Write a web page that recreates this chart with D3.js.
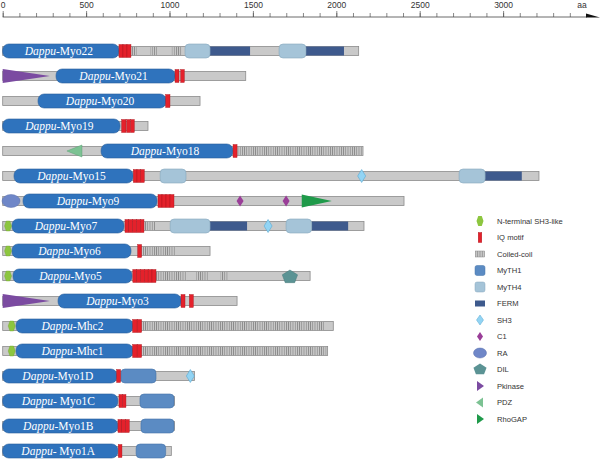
<!DOCTYPE html>
<html><head><meta charset="utf-8">
<script src="https://cdn.jsdelivr.net/npm/d3@7"></script>
<style>body{margin:0;background:#fff}svg{display:block}
.mlab{font-family:"Liberation Serif","Times New Roman",serif;font-weight:normal}
.sans{font-family:"Liberation Sans",Arial,sans-serif}</style>
</head><body>
<script>
// ---- data (aa units) ----
const names = ["Myo22","Myo21","Myo20","Myo19","Myo18","Myo15","Myo9","Myo7","Myo6","Myo5","Myo3","Mhc2","Mhc1","Myo1D","Myo1C","Myo1B","Myo1A"];
const labelSep = ["-","-","-","-","-","-","-","-","-","-","-","-","-","-","- ","-","- "];
const lengths = [2134,1457,1183,871,2160,3215,2406,2166,1243,1843,1405,1982,1948,1150,1030,1030,1011];
const motorDomains = [[0,0,697],[1,320,1033],[2,212,979],[3,0,703],[4,590,1380],[5,68,781],[6,122,925],[7,56,727],[8,56,769],[9,62,775],[10,332,1069],[11,80,781],[12,80,781],[13,0,685],[14,0,690],[15,0,690],[16,0,690]];
const iqMotifs = [[0,697,721],[0,721,745],[0,745,769],[1,1033,1057],[1,1067,1089],[2,977,1003],[3,713,739],[3,743,765],[3,767,789],[4,1381,1405],[5,783,805],[5,805,827],[5,827,849],[6,931,955],[6,955,979],[6,979,1003],[6,1003,1027],[7,733,756],[7,756,779],[7,779,802],[7,802,825],[7,825,847],[8,809,833],[9,780,803],[9,803,826],[9,826,849],[9,849,872],[9,872,895],[9,895,919],[10,1069,1093],[10,1119,1143],[11,779,806],[11,806,833],[12,779,806],[12,806,833],[13,683,707],[14,697,718],[14,718,739],[15,691,714],[15,714,737],[15,737,759],[16,693,715]];
const coiledCoils = [[0,769,803],[0,883,923],[0,1013,1073],[4,1405,2155],[7,847,913],[8,833,1039],[9,919,1105],[9,1160,1230],[9,1307,1349],[11,833,1926],[12,833,1942]];
const myth4 = [[0,1093,1243],[0,1657,1818],[5,944,1099],[5,2736,2892],[7,1004,1243],[7,1699,1852]];
const ferm = [[0,1243,1483],[0,1818,2046],[5,2892,3112],[7,1243,1465],[7,1852,2071]];
const myth1 = [[13,709,919],[14,823,1027],[15,829,1027],[16,800,977]];
const sh3 = [[5,2152],[7,1591],[13,1125]];
const c1 = [[6,1423],[6,1699]];
const ra = [[6,50]];
const dil = [[9,1722]];
const pkinase = [[1,0,283],[10,0,283]];
const pdz = [[4,385,475]];
const rhogap = [[6,1793,1973]];
const sh3like = [[7,32],[8,32],[9,32],[11,54],[12,54]];
const majorTicks = [0,500,1000,1500,2000,2500,3000];
const minorTicks = d3.range(0,3500,100);
const legendItems = ["N-terminal SH3-like","IQ motif","Coiled-coil","MyTH1","MyTH4","FERM","SH3","C1","RA","DIL","Pkinase","PDZ","RhoGAP"];

// ---- drawing ----
const W=600,H=459;
const svg=d3.select("body").append("svg").attr("width",W).attr("height",H);
const x=d3.scaleLinear().domain([0,3500]).range([2.7,2.7+3500*0.1668]);
const y=d3.scaleLinear().domain([0,16]).range([51,451]);

const C={motor:"#2f73bd",motorS:"#2a5f9c",bb:"#c9c9c9",bbS:"#8c8c8c",iq:"#e4212b",iqS:"#a8141c",
  myth4:"#a5c4d8",myth4S:"#86a7bd",ferm:"#3e5a8d",myth1:"#5b8bc3",myth1S:"#4674a8",sh3:"#92d4f4",sh3S:"#5aa8d0",
  c1:"#9a3e98",ra:"#6f87c8",dil:"#5b9394",pk:"#7b4ba1",pdz:"#7cc293",rho:"#1f9a4a",sh3l:"#8dc63f"};

const defs=svg.append("defs");
const pat=defs.append("pattern").attr("id","cc").attr("patternUnits","userSpaceOnUse").attr("width",2.2).attr("height",20);
pat.append("rect").attr("width",2.2).attr("height",20).attr("fill","#cacaca");
pat.append("rect").attr("x",0).attr("width",0.8).attr("height",20).attr("fill","#858585");

// axis
const axG=svg.append("g").attr("transform","translate(0,17)");
axG.call(d3.axisTop(x).tickValues(minorTicks).tickSize(4).tickFormat("")).call(g=>g.select(".domain").remove());
axG.append("g").call(d3.axisTop(x).tickValues(majorTicks).tickSize(6).tickPadding(3).tickFormat(d3.format("d")))
  .call(g=>g.select(".domain").remove())
  .call(g=>g.selectAll("text").attr("class","sans").attr("font-size",8.5).attr("fill","#333"));
axG.selectAll("line").attr("stroke","#555").attr("stroke-width",0.7);
axG.append("line").attr("x1",x(0)).attr("x2",587).attr("stroke","#444").attr("stroke-width",0.8);
svg.append("polygon").attr("points","586,13.5 600,17.6 586,17.6").attr("fill","#111");
svg.append("text").attr("class","sans").attr("x",582).attr("y",8).attr("text-anchor","middle").attr("font-size",8.5).attr("fill","#333").text("aa");

const g=svg.append("g");
// backbones
g.selectAll(".bb").data(lengths).join("rect").attr("x",x(0)).attr("width",d=>x(d)-x(0))
  .attr("y",(d,i)=>y(i)-4.5).attr("height",9).attr("fill",C.bb).attr("stroke",C.bbS).attr("stroke-width",0.8);
// coiled coils
g.selectAll(".cc").data(coiledCoils).join("rect").attr("x",d=>x(d[1])).attr("width",d=>x(d[2])-x(d[1]))
  .attr("y",d=>y(d[0])-4.1).attr("height",8.2).attr("fill","url(#cc)");
// pkinase triangles
g.selectAll(".pk").data(pkinase).join("polygon").attr("points",d=>`${x(d[1])},${y(d[0])-7} ${x(d[2])},${y(d[0])} ${x(d[1])},${y(d[0])+7}`).attr("fill",C.pk);
// pdz (pointing left)
g.selectAll(".pdz").data(pdz).join("polygon").attr("points",d=>`${x(d[2])},${y(d[0])-6} ${x(d[1])},${y(d[0])} ${x(d[2])},${y(d[0])+6}`).attr("fill",C.pdz).attr("stroke","#5aa374").attr("stroke-width",0.5);
// rhogap
g.selectAll(".rho").data(rhogap).join("polygon").attr("points",d=>`${x(d[1])},${y(d[0])-6.5} ${x(d[2])},${y(d[0])} ${x(d[1])},${y(d[0])+6.5}`).attr("fill",C.rho);
// FERM
g.selectAll(".ferm").data(ferm).join("rect").attr("x",d=>x(d[1])).attr("width",d=>x(d[2])-x(d[1]))
  .attr("y",d=>y(d[0])-4.5).attr("height",9).attr("fill",C.ferm);
// MyTH4
g.selectAll(".m4").data(myth4).join("rect").attr("x",d=>x(d[1])).attr("width",d=>x(d[2])-x(d[1]))
  .attr("y",d=>y(d[0])-7).attr("height",14).attr("rx",4).attr("fill",C.myth4).attr("stroke",C.myth4S).attr("stroke-width",0.6);
// MyTH1
g.selectAll(".m1").data(myth1).join("rect").attr("x",d=>x(d[1])).attr("width",d=>x(d[2])-x(d[1]))
  .attr("y",d=>y(d[0])-7).attr("height",14).attr("rx",4).attr("fill",C.myth1).attr("stroke",C.myth1S).attr("stroke-width",0.6);
// motor
g.selectAll(".mo").data(motorDomains).join("rect").attr("x",d=>x(d[1])).attr("width",d=>x(d[2])-x(d[1]))
  .attr("y",d=>y(d[0])-7).attr("height",14).attr("rx",6).attr("fill",C.motor).attr("stroke",C.motorS).attr("stroke-width",0.6);
// motor labels
const lab=g.selectAll(".lab").data(motorDomains).join("text").attr("class","mlab")
  .attr("x",d=>(x(d[1])+x(d[2]))/2-2).attr("y",d=>y(d[0])+3.8).attr("text-anchor","middle")
  .attr("font-size",11.5).attr("fill","#fff");
lab.append("tspan").attr("font-style","italic").text("Dappu");
lab.append("tspan").text(d=>labelSep[d[0]]+names[d[0]]);
// IQ
g.selectAll(".iq").data(iqMotifs).join("rect").attr("x",d=>x(d[1])).attr("width",d=>x(d[2])-x(d[1]))
  .attr("y",d=>y(d[0])-6.5).attr("height",13).attr("fill",C.iq).attr("stroke",C.iqS).attr("stroke-width",0.4);
// RA
g.selectAll(".ra").data(ra).join("ellipse").attr("cx",d=>x(d[1])).attr("cy",d=>y(d[0])).attr("rx",9).attr("ry",6.5)
  .attr("fill",C.ra).attr("stroke","#5a70ad").attr("stroke-width",0.5);
// diamond helper
const diamond=(cx,cy,w,h)=>`${cx},${cy-h/2} ${cx+w/2},${cy} ${cx},${cy+h/2} ${cx-w/2},${cy}`;
g.selectAll(".sh3").data(sh3).join("polygon").attr("points",d=>diamond(x(d[1]),y(d[0]),8,13)).attr("fill",C.sh3).attr("stroke",C.sh3S).attr("stroke-width",0.6);
g.selectAll(".c1").data(c1).join("polygon").attr("points",d=>diamond(x(d[1]),y(d[0]),7,11)).attr("fill",C.c1);
const pent=(cx,cy,r)=>d3.range(5).map(k=>{const a=-Math.PI/2+k*2*Math.PI/5;return `${cx+r*1.15*Math.cos(a)},${cy+r*Math.sin(a)+1}`;}).join(" ");
g.selectAll(".dil").data(dil).join("polygon").attr("points",d=>pent(x(d[1]),y(d[0]),7)).attr("fill",C.dil).attr("stroke","#497a7a").attr("stroke-width",0.5);
const hex=(cx,cy,w,h)=>`${cx-w/4},${cy-h/2} ${cx+w/4},${cy-h/2} ${cx+w/2},${cy} ${cx+w/4},${cy+h/2} ${cx-w/4},${cy+h/2} ${cx-w/2},${cy}`;
g.selectAll(".sh3l").data(sh3like).join("polygon").attr("points",d=>hex(x(d[1]),y(d[0]),7,10)).attr("fill",C.sh3l).attr("stroke","#6ea52c").attr("stroke-width",0.4);

// legend
const ly=d3.scaleLinear().domain([0,12]).range([221,419]);
const lx=480;
const lg=svg.append("g");
lg.selectAll("text").data(legendItems).join("text").attr("class","sans").attr("x",497).attr("y",(d,i)=>ly(i)+2.7)
  .attr("font-size",7.6).attr("fill","#333").text(d=>d);
const sym=[
  (s,cy)=>s.append("polygon").attr("points",hex(lx,cy,7,10)).attr("fill",C.sh3l),
  (s,cy)=>s.append("rect").attr("x",lx-1.8).attr("y",cy-5).attr("width",3.6).attr("height",10).attr("fill",C.iq).attr("stroke",C.iqS).attr("stroke-width",0.4),
  (s,cy)=>s.append("rect").attr("x",lx-4.5).attr("y",cy-3).attr("width",9).attr("height",6).attr("fill","url(#cc)").attr("stroke","#8a8a8a").attr("stroke-width",0.5),
  (s,cy)=>s.append("rect").attr("x",lx-5).attr("y",cy-5).attr("width",10).attr("height",10).attr("rx",2).attr("fill",C.myth1).attr("stroke",C.myth1S).attr("stroke-width",0.5),
  (s,cy)=>s.append("rect").attr("x",lx-5).attr("y",cy-5).attr("width",10).attr("height",10).attr("rx",2).attr("fill",C.myth4).attr("stroke",C.myth4S).attr("stroke-width",0.5),
  (s,cy)=>s.append("rect").attr("x",lx-5).attr("y",cy-3).attr("width",10).attr("height",6).attr("fill",C.ferm),
  (s,cy)=>s.append("polygon").attr("points",diamond(lx,cy,7,10)).attr("fill",C.sh3).attr("stroke",C.sh3S).attr("stroke-width",0.5),
  (s,cy)=>s.append("polygon").attr("points",diamond(lx,cy,6,9)).attr("fill",C.c1),
  (s,cy)=>s.append("ellipse").attr("cx",lx).attr("cy",cy).attr("rx",6.5).attr("ry",5).attr("fill",C.ra).attr("stroke","#5a70ad").attr("stroke-width",0.5),
  (s,cy)=>s.append("polygon").attr("points",pent(lx,cy-1,6)).attr("fill",C.dil),
  (s,cy)=>s.append("polygon").attr("points",`${lx-3},${cy-5} ${lx+4},${cy} ${lx-3},${cy+5}`).attr("fill",C.pk),
  (s,cy)=>s.append("polygon").attr("points",`${lx+3},${cy-5} ${lx-4},${cy} ${lx+3},${cy+5}`).attr("fill",C.pdz),
  (s,cy)=>s.append("polygon").attr("points",`${lx-3},${cy-5} ${lx+4},${cy} ${lx-3},${cy+5}`).attr("fill",C.rho)
];
legendItems.forEach((d,i)=>sym[i](lg,ly(i)));
</script>
</body></html>
